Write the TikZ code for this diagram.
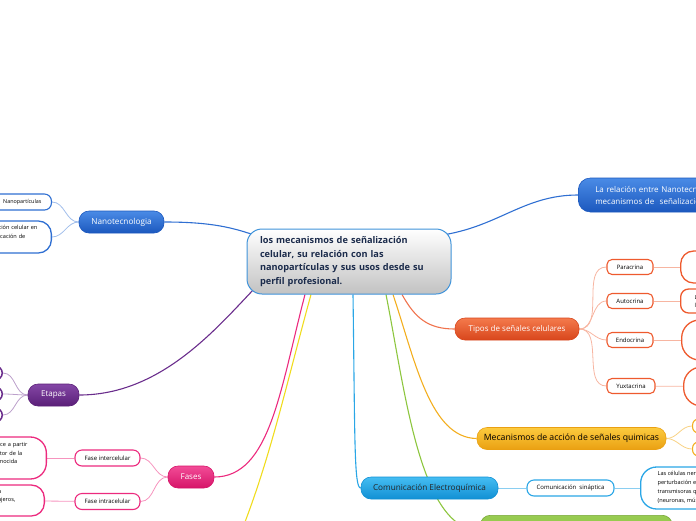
\documentclass[tikz,border=0pt]{standalone}
\usepackage{fontspec}
\setmainfont{Open Sans}
\usetikzlibrary{backgrounds}

\definecolor{navy}{HTML}{1B2B4B}
\definecolor{mainblue}{HTML}{3F93DA}
\definecolor{nanoblue}{HTML}{2F6FD2}
\definecolor{nanotop}{HTML}{4A8BE6}
\definecolor{nanobot}{HTML}{1C58BE}
\definecolor{tiporange}{HTML}{EE5A2E}
\definecolor{tipotop}{HTML}{F47A4C}
\definecolor{tipobot}{HTML}{D8461C}
\definecolor{mecyel}{HTML}{F3AE1F}
\definecolor{mectop}{HTML}{FCCB3E}
\definecolor{mecbot}{HTML}{EAA012}
\definecolor{eleblue}{HTML}{2AA6E6}
\definecolor{eletop}{HTML}{45BDF2}
\definecolor{elebot}{HTML}{1190D4}
\definecolor{fasepink}{HTML}{EC2A7E}
\definecolor{fasetop}{HTML}{F24C97}
\definecolor{fasebot}{HTML}{D61468}
\definecolor{etapurple}{HTML}{6A2D8C}
\definecolor{etatop}{HTML}{8447A6}
\definecolor{etabot}{HTML}{5A1F78}
\definecolor{leafgreen}{HTML}{8DC63F}
\definecolor{sunyellow}{HTML}{F0DC1E}

\begin{document}
\begin{tikzpicture}[x=1pt,y=1pt]
\tikzstyle{every node}+=[inner sep=0pt]
\tikzstyle{topic}=[rounded corners=10pt, minimum height=22pt, draw, line width=0.6pt, font=\fontsize{8}{9}\selectfont]
\tikzstyle{leaf}=[rounded corners=5pt, minimum height=15pt, draw, line width=1.1pt, fill=white, font=\fontsize{6}{7}\selectfont]
\tikzstyle{note}=[rounded corners=13pt, draw, line width=1.3pt, fill=white, font=\fontsize{5.6}{8.5}\selectfont]
\tikzstyle{branch}=[line width=1.1pt]
\tikzstyle{twig}=[line width=0.8pt]
\useasboundingbox (0,0) rectangle (696,-520);
\clip (0,0) rectangle (696,-520);

% central topic
\node (main) at (349,-261.5) [draw=mainblue, line width=1pt, rounded corners=15pt, top color=white, bottom color=black!24, minimum width=204pt, minimum height=65pt, text width=178pt, align=left, text=navy, font=\bfseries\fontsize{9.2}{13.5}\selectfont] {los mecanismos de señalización\\ celular, su relación con las\\ nanopartículas y sus usos desde su\\ perfil profesional.};

% Nanotecnologia
\node (nano) at (121.5,-222) [topic, draw=nanobot, top color=nanotop, bottom color=nanobot, text=white, minimum width=85pt, font=\fontsize{8.2}{9}\selectfont] {Nanotecnologia};
\node (nanoA) at (52,-202) [leaf, anchor=east, draw=nanoblue, minimum height=16pt, rounded corners=7pt, inner xsep=10pt, font=\fontsize{5.4}{7}\selectfont] {Nanopartículas};
\node (nanoB) at (52,-237) [note, anchor=east, draw=nanoblue, minimum height=32pt, inner xsep=14pt, text width=110pt, align=right] {señalización celular en\\ en la aplicación de\hspace*{12pt}\mbox{}\\ nanopartículas\hspace*{50pt}\mbox{}};

% top right
\node (relacion) at (578,-195) [topic, anchor=west, draw=nanobot, top color=nanotop, bottom color=nanobot, text=white, minimum height=34pt, rounded corners=12pt, inner xsep=17pt, text width=190pt, align=left, font=\fontsize{8}{12}\selectfont] {La relación entre Nanotecnología y los\\ mecanismos de\ \ señalización celular};

% Tipos de senales
\node (tipos) at (517,-329) [topic, draw=tipobot, top color=tipotop, bottom color=tipobot, text=white, minimum width=124pt] {Tipos de señales celulares};
\node (paracrina) at (630,-267) [leaf, draw=tiporange, minimum width=46pt] {Paracrina};
\node (autocrina) at (630,-301) [leaf, draw=tiporange, minimum width=46pt] {Autocrina};
\node (endocrina) at (630,-340) [leaf, draw=tiporange, minimum width=46pt] {Endocrina};
\node (yuxtacrina) at (631,-386) [leaf, draw=tiporange, minimum width=48pt] {Yuxtacrina};
\node (paraNote) at (680,-267) [note, anchor=west, draw=tiporange, minimum width=60pt, minimum height=32pt] {};
\node (autoNote) at (680,-301) [note, anchor=west, draw=tiporange, minimum height=24pt, rounded corners=8pt, inner xsep=14pt, align=left, font=\fontsize{5.6}{8}\selectfont] {La célula emisora\\ la recibe};
\node (endoNote) at (681,-340) [note, anchor=west, draw=tiporange, minimum width=60pt, minimum height=40pt, rounded corners=18pt] {};
\node (yuxtaNote) at (683,-386.5) [note, anchor=west, draw=tiporange, minimum width=60pt, minimum height=39pt, rounded corners=18pt] {};

% Mecanismos
\node (mecan) at (571.5,-438.5) [topic, draw=mecbot, top color=mectop, bottom color=mecbot, text=black, minimum width=189pt, font=\fontsize{8.7}{9}\selectfont] {Mecanismos de acción de señales quimicas};
\node (mecA) at (692,-426) [leaf, anchor=west, draw=mecyel, minimum width=30pt, minimum height=14pt, rounded corners=6pt] {};
\node (mecB) at (692,-449) [leaf, anchor=west, draw=mecyel, minimum width=30pt, minimum height=14pt, rounded corners=6pt] {};

% Comunicacion Electroquimica
\node (electro) at (429.5,-488) [topic, draw=elebot, top color=eletop, bottom color=elebot, text=black!85, minimum width=137pt, font=\fontsize{8.2}{9}\selectfont] {Comunicación Electroquímica};
\node (sinap) at (570.5,-488) [leaf, draw=eleblue, minimum width=87pt, minimum height=16pt, rounded corners=7pt] {Comunicación\ \ sináptica};
\node (sinapNote) at (640,-488) [note, anchor=west, draw=eleblue, minimum height=42pt, rounded corners=16pt, inner xsep=17pt, align=left, font=\fontsize{5.6}{9}\selectfont] {Las células nerviosas generan una\\ perturbación eléctrica a través de\\ transmisoras químicas entre células\\ (neuronas, músculos y glándulas)};

% green topic
\node (green) at (480,-515) [topic, anchor=north west, draw=leafgreen!85!black, top color=leafgreen!90!white, bottom color=leafgreen, minimum width=192pt, minimum height=30pt] {};
\coordinate (yelEnd) at (225,-570);

% Fases
\node (fases) at (191,-477) [topic, draw=fasebot, top color=fasetop, bottom color=fasebot, text=white, minimum width=46pt] {Fases};
\node (faseInter) at (107.5,-458) [leaf, draw=fasepink, minimum width=65pt, minimum height=16pt, rounded corners=7pt] {Fase intercelular};
\node (faseIntra) at (107.5,-501.5) [leaf, draw=fasepink, minimum width=65pt, minimum height=16pt, rounded corners=7pt] {Fase intracelular};
\node (interNote) at (47,-458) [note, anchor=east, draw=fasepink, minimum height=42pt, rounded corners=16pt, inner xsep=19pt, text width=110pt, align=right] {se produce a partir\\ del receptor de la\hspace*{5pt}\mbox{}\\ señal reconocida\hspace*{10pt}\mbox{}\\ por la célula\hspace*{50pt}\mbox{}};
\node (intraNote) at (45,-500.5) [note, anchor=east, draw=fasepink, minimum height=31pt, rounded corners=13pt, inner xsep=19pt, text width=110pt, align=right] {ocurre dentro de la\hspace*{24pt}\mbox{}\\ segundos mensajeros,\hspace*{10pt}\mbox{}\\ proteínas\hspace*{50pt}\mbox{}};

% Etapas
\node (etapas) at (53.5,-395) [topic, draw=etabot, top color=etatop, bottom color=etabot, text=white, minimum width=51pt] {Etapas};
\node (etA) at (3,-373) [leaf, anchor=east, draw=etapurple, line width=1.5pt, minimum width=20pt, minimum height=14pt, rounded corners=7pt] {};
\node (etB) at (3,-394) [leaf, anchor=east, draw=etapurple, line width=1.5pt, minimum width=20pt, minimum height=14pt, rounded corners=7pt] {};
\node (etC) at (3,-415) [leaf, anchor=east, draw=etapurple, line width=1.5pt, minimum width=20pt, minimum height=14pt, rounded corners=7pt] {};

\begin{scope}[on background layer]
% main branches
\draw [branch, nanoblue] (nano.east) .. controls (205,-222) and (228,-226) .. ([shift={(6,-6)}]main.north west);
\draw [branch, nanoblue] ([shift={(-6,-6)}]main.north east) .. controls (500,-225) and (525,-195) .. (relacion.west);
\draw [branch, tiporange!85] ([xshift=53pt]main.south) .. controls (415,-318) and (428,-329) .. (tipos.west);
\draw [branch, mecyel] ([xshift=44pt]main.south) .. controls (415,-360) and (430,-438) .. (mecan.west);
\draw [branch, eleblue] ([xshift=4pt]main.south) .. controls (355,-440) and (354,-488) .. (electro.west);
\draw [branch, leafgreen] ([xshift=37pt]main.south) .. controls (405,-390) and (420,-531) .. (green.west);
\draw [branch, sunyellow] ([xshift=-38pt]main.south) .. controls (282,-400) and (266,-480) .. (yelEnd);
\draw [branch, fasepink] ([xshift=-44pt]main.south) .. controls (280,-390) and (270,-477) .. (fases.east);
\draw [branch, etapurple] ([shift={(8,6)}]main.south west) .. controls (215,-330) and (160,-395) .. (etapas.east);
% twigs
\draw [twig, nanoblue!45] (nano.west) to[out=180,in=0] (nanoA.east);
\draw [twig, nanoblue!45] (nano.west) to[out=180,in=0] (nanoB.east);
\draw [twig, tiporange!45] (tipos.east) to[out=0,in=180] (paracrina.west);
\draw [twig, tiporange!45] (tipos.east) to[out=0,in=180] (autocrina.west);
\draw [twig, tiporange!45] (tipos.east) to[out=0,in=180] (endocrina.west);
\draw [twig, tiporange!45] (tipos.east) to[out=0,in=180] (yuxtacrina.west);
\draw [twig, tiporange!45] (paracrina) -- (paraNote);
\draw [twig, tiporange!45] (autocrina) -- (autoNote);
\draw [twig, tiporange!45] (endocrina) -- (endoNote);
\draw [twig, tiporange!45] (yuxtacrina) -- (yuxtaNote);
\draw [twig, mecyel!55] (mecan.east) to[out=0,in=180] (mecA.west);
\draw [twig, mecyel!55] (mecan.east) to[out=0,in=180] (mecB.west);
\draw [twig, eleblue!55] (electro) -- (sinap);
\draw [twig, eleblue!55] (sinap) -- (sinapNote);
\draw [twig, fasepink!50] (fases.west) to[out=180,in=0] (faseInter.east);
\draw [twig, fasepink!50] (fases.west) to[out=180,in=0] (faseIntra.east);
\draw [twig, fasepink!50] (faseInter) -- (interNote);
\draw [twig, fasepink!50] (faseIntra) -- (intraNote);
\draw [twig, etapurple!45] (etapas.west) to[out=180,in=0] (etA.east);
\draw [twig, etapurple!45] (etapas.west) to[out=180,in=0] (etB.east);
\draw [twig, etapurple!45] (etapas.west) to[out=180,in=0] (etC.east);
\end{scope}
\end{tikzpicture}
\end{document}
